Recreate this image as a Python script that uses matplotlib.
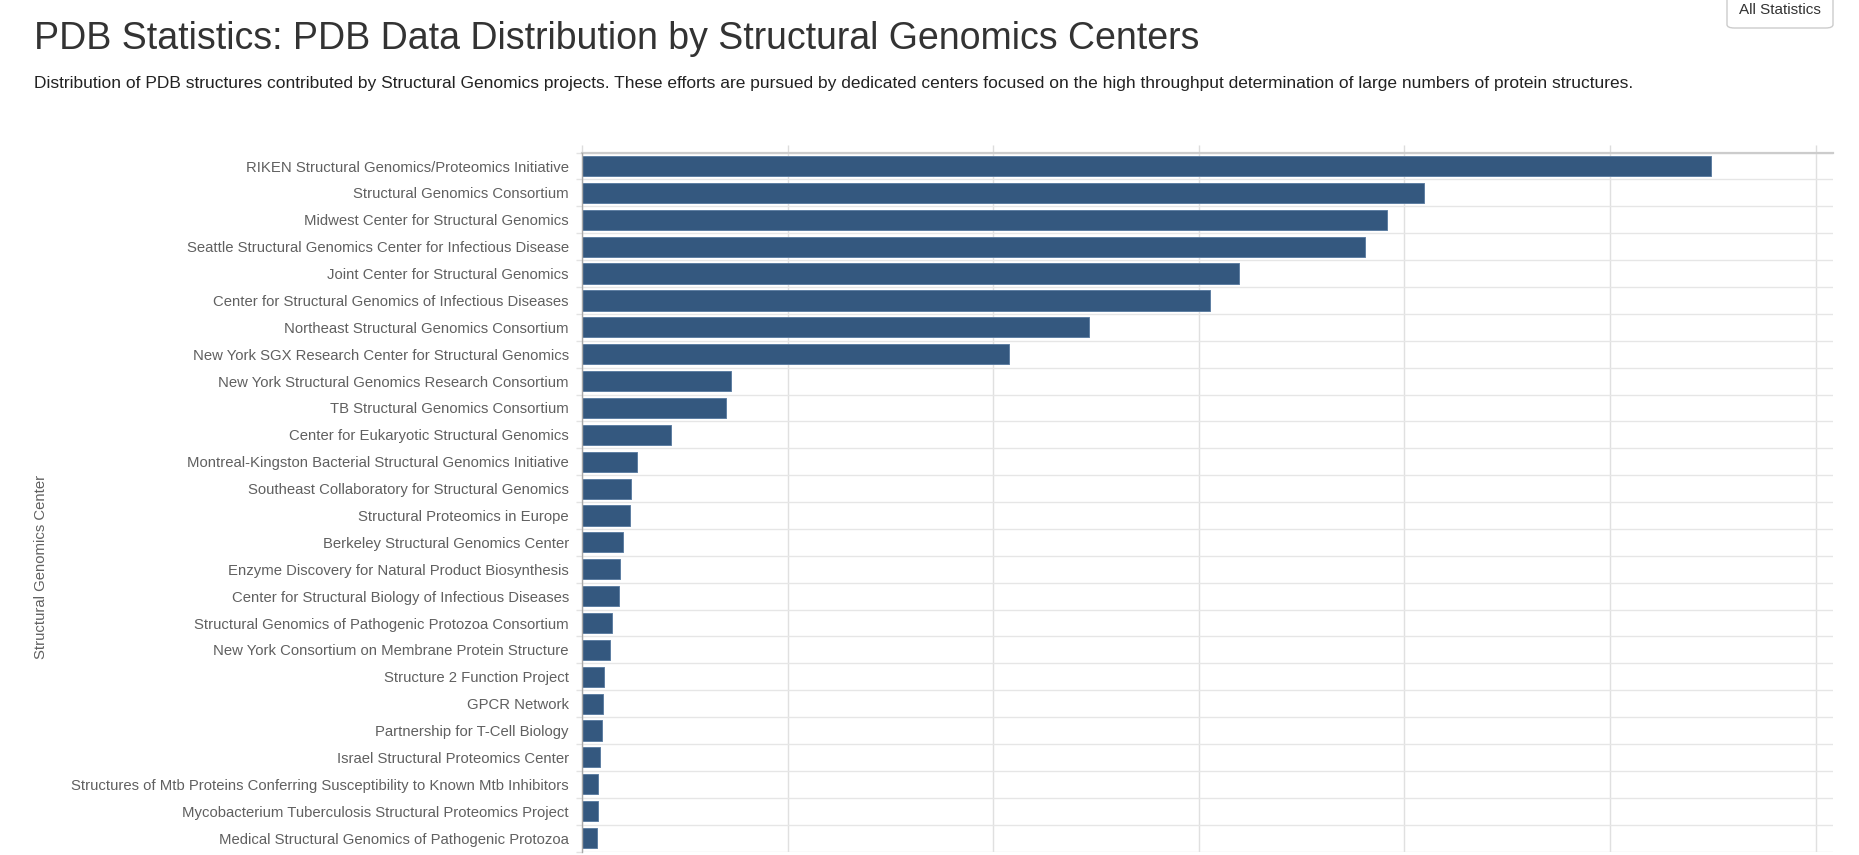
import matplotlib
matplotlib.use("Agg")
import matplotlib.pyplot as plt
from matplotlib.patches import FancyBboxPatch
import numpy as np

plt.rcParams['font.family'] = ['Liberation Sans', 'DejaVu Sans']

title = "PDB Statistics: PDB Data Distribution by Structural Genomics Centers"
subtitle = ("Distribution of PDB structures contributed by Structural Genomics projects. These efforts are pursued by "
            "dedicated centers focused on the high throughput determination of large numbers of protein structures.")
y_title = "Structural Genomics Center"
button_text = "All Statistics"

centers = [
    "RIKEN Structural Genomics/Proteomics Initiative",
    "Structural Genomics Consortium",
    "Midwest Center for Structural Genomics",
    "Seattle Structural Genomics Center for Infectious Disease",
    "Joint Center for Structural Genomics",
    "Center for Structural Genomics of Infectious Diseases",
    "Northeast Structural Genomics Consortium",
    "New York SGX Research Center for Structural Genomics",
    "New York Structural Genomics Research Consortium",
    "TB Structural Genomics Consortium",
    "Center for Eukaryotic Structural Genomics",
    "Montreal-Kingston Bacterial Structural Genomics Initiative",
    "Southeast Collaboratory for Structural Genomics",
    "Structural Proteomics in Europe",
    "Berkeley Structural Genomics Center",
    "Enzyme Discovery for Natural Product Biosynthesis",
    "Center for Structural Biology of Infectious Diseases",
    "Structural Genomics of Pathogenic Protozoa Consortium",
    "New York Consortium on Membrane Protein Structure",
    "Structure 2 Function Project",
    "GPCR Network",
    "Partnership for T-Cell Biology",
    "Israel Structural Proteomics Center",
    "Structures of Mtb Proteins Conferring Susceptibility to Known Mtb Inhibitors",
    "Mycobacterium Tuberculosis Structural Proteomics Project",
    "Medical Structural Genomics of Pathogenic Protozoa",
]
counts = [2746, 2047, 1958, 1904, 1597, 1527, 1232, 1038, 363, 351, 217, 133, 120,
          117, 99, 93, 90, 72, 69, 53, 50, 48, 44, 38, 38, 36]
x_ticks = [0, 500, 1000, 1500, 2000, 2500, 3000]

W, H = 1859, 855
fig = plt.figure(figsize=(W / 100, H / 100), dpi=100)

ax_left, ax_right = 582, 1833
ax_top, ax_bottom = 152.6, 851.5
ax = fig.add_axes([ax_left / W, 1 - ax_bottom / H, (ax_right - ax_left) / W, (ax_bottom - ax_top) / H])

n = len(centers)
y = np.arange(n)
ax.barh(y, counts, height=0.75, color='#34587f', edgecolor='#5f7fa3', linewidth=0.7, zorder=3)

ax.set_ylim(n - 0.5, -0.5)
ax.set_xlim(0, 3042)
ax.set_yticks(y)
ax.set_yticklabels(centers, fontsize=10.7, color='#606060')
ax.set_yticks(np.arange(n + 1) - 0.5, minor=True)
ax.tick_params(axis='y', which='major', length=0, pad=9.4)
ax.tick_params(axis='y', which='minor', length=4.3, color='#e3e3e3', width=1.0)
ax.grid(axis='y', which='minor', color='#e6e6e6', linewidth=1.0, zorder=0)

ax.xaxis.tick_top()
ax.set_xticks(x_ticks)
ax.set_xticklabels([])
ax.tick_params(axis='x', which='major', length=5.8, color='#dddddd', width=1.0)
ax.grid(axis='x', which='major', color='#e0e0e0', linewidth=1.0, zorder=0)

for s in ['right', 'bottom']:
    ax.spines[s].set_visible(False)
ax.spines['top'].set_color('#cccccc')
ax.spines['top'].set_linewidth(1.6)
ax.spines['left'].set_color('#a8a8a8')
ax.spines['left'].set_linewidth(1.0)
ax.spines['left'].set_zorder(4)

fig.text(34 / W, 1 - 49.3 / H, title, fontsize=27.0, color='#333333', ha='left', va='baseline')
fig.text(34 / W, 1 - 87.7 / H, subtitle, fontsize=12.55, color='#222222', ha='left', va='baseline')
fig.text(41 / W, 1 - 567 / H, y_title, fontsize=10.7, color='#606060', rotation=90, ha='center', va='center')

btn = FancyBboxPatch((1727 / W, 1 - 28 / H), 106 / W, 40 / H,
                     boxstyle="round,pad=0,rounding_size=0.004",
                     transform=fig.transFigure, facecolor='white', edgecolor='#cccccc', linewidth=1.0)
fig.patches.append(btn)
fig.text(1780 / W, 1 - 10 / H, button_text, fontsize=11, color='#333333', ha='center', va='center')

fig.savefig("out.png", dpi=100)
